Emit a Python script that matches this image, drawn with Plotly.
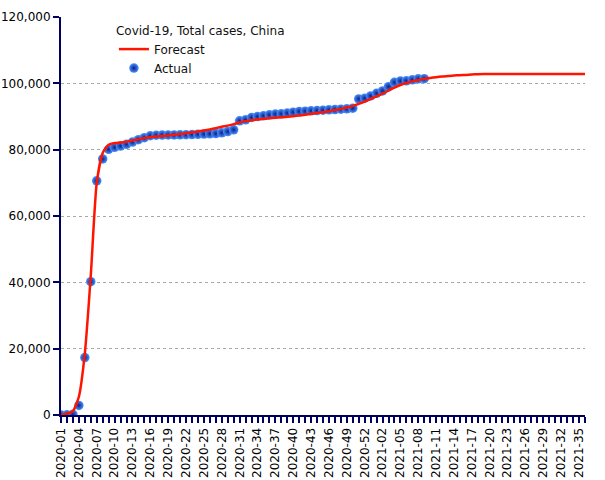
import plotly.graph_objects as go

# Week categories: 2020-01 .. 2020-53, 2021-01 .. 2021-36
weeks = [f"2020-{w:02d}" for w in range(1, 54)] + [f"2021-{w:02d}" for w in range(1, 37)]
tick_text = [w if i % 3 == 0 else "" for i, w in enumerate(weeks)]

actual = [
    30, 45, 200, 2900, 17300, 40200, 70600, 77200, 80100, 80700,
    81100, 81600, 82300, 83000, 83600, 84200, 84350, 84400, 84420, 84450,
    84480, 84520, 84560, 84620, 84700, 84780, 84850, 85080, 85470, 86000,
    88700, 89000, 89700, 90000, 90210, 90500, 90720, 90810, 91020, 91300,
    91500, 91600, 91700, 91800, 91900, 92000, 92100, 92200, 92300, 92500,
    95300, 95500, 96200, 97000, 97700, 99000, 100300, 100700, 100750, 101050,
    101350, 101400,
]

forecast = [
    100, 400, 1200, 5500, 18500, 42000, 70000, 79000, 81500, 82000,
    82150, 82400, 82750, 83100, 83480, 83800, 84000, 84150, 84300, 84480,
    84700, 84950, 85200, 85450, 85750, 86100, 86500, 86900, 87250, 87700,
    88200, 88600, 88900, 89100, 89300, 89450, 89600, 89750, 89900, 90100,
    90300, 90500, 90800, 91050, 91300, 91600, 91950, 92300, 92700, 93200,
    93800, 94500, 95300, 96100, 96900, 97800, 98700, 99500, 100100, 100600,
    101000, 101350, 101600, 101850, 102050, 102200, 102350, 102450, 102550, 102650,
    102750, 102790, 102790, 102790, 102790, 102790, 102790, 102790, 102790, 102790,
    102790, 102790, 102790, 102790, 102790, 102790, 102790, 102790, 102790,
]

FONT = "DejaVu Sans"
AXIS = "#00005e"

fig = go.Figure()
fig.add_trace(go.Scatter(
    x=weeks[:len(actual)], y=actual, name="Actual", mode="markers",
    marker=dict(size=9.5, color="#4a92ff",
                gradient=dict(type="radial", color="#0a1f8a"),
                line=dict(width=0)),
))
fig.add_trace(go.Scatter(
    x=weeks[:len(forecast)], y=forecast, name="Forecast", mode="lines",
    line=dict(color="#ff1400", width=2.5, shape="spline", smoothing=0.6),
))

fig.update_layout(
    width=605, height=480,
    margin=dict(l=61, r=20, t=17, b=65, autoexpand=False),
    paper_bgcolor="white", plot_bgcolor="white",
    font=dict(family=FONT, size=12, color="black"),
    showlegend=True,
    legend=dict(
        x=0.101, y=0.995, xanchor="left", yanchor="top",
        traceorder="reversed",
        bgcolor="rgba(0,0,0,0)",
        font=dict(family=FONT, size=12, color="#111"),
        title=dict(text="Covid-19, Total cases, China", font=dict(family=FONT, size=12, color="#111")),
        itemwidth=30, tracegroupgap=0,
    ),
    xaxis=dict(
        type="category", range=[0, 88],
        tickmode="array", tickvals=weeks, ticktext=tick_text,
        tickangle=-90, ticks="outside", ticklen=6, tickcolor=AXIS, tickwidth=1.5,
        showline=True, linecolor=AXIS, linewidth=2,
        showgrid=False, zeroline=False, automargin=False,
        tickfont=dict(family=FONT, size=12, color="black"),
    ),
    yaxis=dict(
        range=[0, 120000], dtick=20000, tickformat=",",
        ticks="outside", ticklen=6, tickcolor=AXIS, tickwidth=1.5,
        showline=True, linecolor=AXIS, linewidth=2,
        showgrid=True, gridcolor="#a8a8a8", gridwidth=1, griddash="3px,3px",
        zeroline=False, automargin=False,
        tickfont=dict(family=FONT, size=12, color="black"),
    ),
)

fig.write_html(
    "out.html",
    config={"displayModeBar": False},
    post_script="document.body.style.margin='0';document.body.style.overflow='hidden';",
)
